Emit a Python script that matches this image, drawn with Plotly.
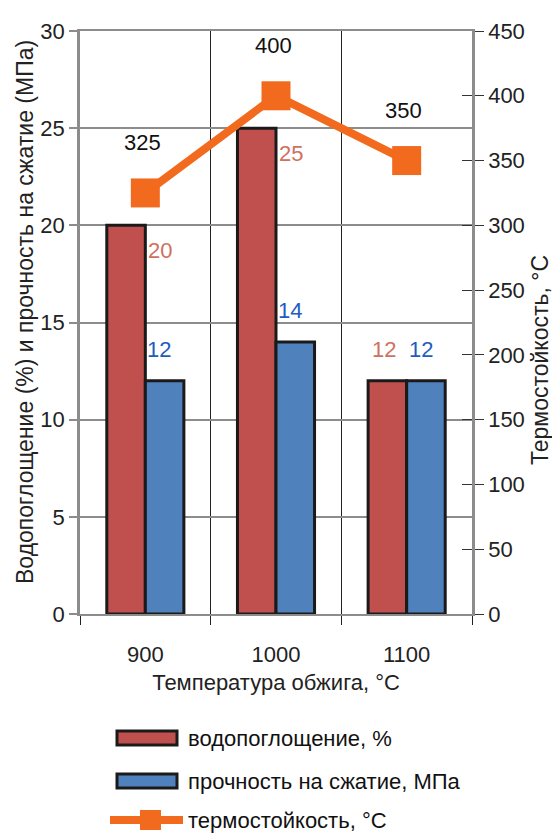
import plotly.graph_objects as go

# Firing temperature categories and measured properties
temperatures = ["900", "1000", "1100"]
water_absorption = [20, 25, 12]          # %
compressive_strength = [12, 14, 12]      # MPa
heat_resistance = [325, 400, 350]        # °C

y_left_ticks = [0, 5, 10, 15, 20, 25, 30]
y_right_ticks = [0, 50, 100, 150, 200, 250, 300, 350, 400, 450]

FONT = "Liberation Sans, Arial, sans-serif"
RED = "#C0504D"
BLUE = "#4F81BD"
ORANGE = "#F26A1E"
RED_TXT = "#D0705E"
BLUE_TXT = "#1D5DC0"
AXIS_GRAY = "#8C8C8C"

W, H = 552, 836
ML, MR, MT, MB = 80, 80, 31, 222
PW, PH = W - ML - MR, H - MT - MB


def px_x(v):
    """pixel column -> paper x (plot-area relative)"""
    return (v - ML) / PW


def px_y(v):
    """pixel row -> paper y (plot-area relative)"""
    return (H - MB - v) / PH


fig = go.Figure()

fig.add_trace(go.Bar(
    x=temperatures, y=water_absorption, name="водопоглощение, %",
    marker=dict(color=RED, line=dict(color="#1a1a1a", width=3)),
    yaxis="y",
))
fig.add_trace(go.Bar(
    x=temperatures, y=compressive_strength, name="прочность на сжатие, МПа",
    marker=dict(color=BLUE, line=dict(color="#1a1a1a", width=3)),
    yaxis="y",
))
fig.add_trace(go.Scatter(
    x=temperatures, y=heat_resistance, name="термостойкость, °С",
    mode="lines+markers",
    line=dict(color=ORANGE, width=8),
    marker=dict(symbol="square", size=29, color=ORANGE),
    yaxis="y2",
))
# an empty trace so the inside-tick overlay axis is drawn
fig.add_trace(go.Scatter(x=[temperatures[0]], y=[None], yaxis="y3", showlegend=False,
                         hoverinfo="skip"))

annotations = []
# value labels for the bars (x given as category index)
for i, (wa, cs) in enumerate(zip(water_absorption, compressive_strength)):
    if wa > cs:
        # label sits to the right of the taller bar, just below its top
        annotations.append(dict(x=i, y=wa, xref="x", yref="y", text=str(wa),
                                showarrow=False, xshift=15, yshift=-25,
                                font=dict(color=RED_TXT, size=22, family=FONT)))
    else:
        annotations.append(dict(x=i, y=wa, xref="x", yref="y", text=str(wa),
                                showarrow=False, xshift=-23, yshift=31,
                                font=dict(color=RED_TXT, size=22, family=FONT)))
    annotations.append(dict(x=i, y=cs, xref="x", yref="y", text=str(cs),
                            showarrow=False, xshift=14, yshift=31,
                            font=dict(color=BLUE_TXT, size=22, family=FONT)))
# value labels for the heat-resistance line
for i, hr in enumerate(heat_resistance):
    annotations.append(dict(x=i, y=hr, xref="x", yref="y2", text=str(hr),
                            showarrow=False, xshift=-3, yshift=50,
                            font=dict(color="#111111", size=22, family=FONT)))

# axis titles for the two value axes
annotations.append(dict(x=px_x(25), y=px_y(312), xref="paper", yref="paper",
                        xanchor="center", yanchor="middle",
                        text="Водопоглощение (%) и прочность на сжатие (МПа)",
                        textangle=-90, showarrow=False,
                        font=dict(color="#222222", size=23, family=FONT)))
annotations.append(dict(x=px_x(540), y=px_y(360), xref="paper", yref="paper",
                        xanchor="center", yanchor="middle",
                        text="Термостойкость, °С",
                        textangle=-90, showarrow=False,
                        font=dict(color="#222222", size=23, family=FONT)))

# custom legend below the plot
legend_items = [
    ("bar", RED, "водопоглощение, %"),
    ("bar", BLUE, "прочность на сжатие, МПа"),
    ("line", ORANGE, "термостойкость, °С"),
]
legend_rows_px = [738, 781, 820]
shapes = []
for (kind, col, label), yc in zip(legend_items, legend_rows_px):
    if kind == "bar":
        shapes.append(dict(type="rect", xref="paper", yref="paper",
                           x0=px_x(117), x1=px_x(177), y0=px_y(yc + 7), y1=px_y(yc - 7),
                           fillcolor=col, line=dict(color="#1a1a1a", width=3)))
    else:
        shapes.append(dict(type="line", xref="paper", yref="paper",
                           x0=px_x(110), x1=px_x(183), y0=px_y(yc), y1=px_y(yc),
                           line=dict(color=col, width=8)))
        shapes.append(dict(type="rect", xref="paper", yref="paper",
                           x0=px_x(140), x1=px_x(161), y0=px_y(yc + 10), y1=px_y(yc - 10),
                           fillcolor=col, line=dict(width=0)))
    annotations.append(dict(x=px_x(186), y=px_y(yc), xref="paper", yref="paper",
                            text=label, showarrow=False, xanchor="left", yanchor="middle",
                            font=dict(color="#111111", size=22, family=FONT)))

fig.update_layout(
    width=W, height=H,
    margin=dict(l=ML, r=MR, t=MT, b=MB),
    paper_bgcolor="white", plot_bgcolor="white",
    barmode="group", bargap=0.41, bargroupgap=0,
    showlegend=False,
    font=dict(family=FONT, size=22, color="#222222"),
    xaxis=dict(
        type="category", range=[-0.5, 2.5], automargin=False,
        tickson="boundaries", ticks="outside", ticklen=9, tickwidth=1, tickcolor="#222222",
        showgrid=True, gridcolor="#222222", gridwidth=1,
        showline=True, mirror=True, linecolor=AXIS_GRAY, linewidth=2,
        ticklabelstandoff=20,
        title=dict(text="Температура обжига, °С", standoff=8, font=dict(size=22)),
        tickfont=dict(size=22),
    ),
    yaxis=dict(
        range=[0, 30], tickvals=y_left_ticks, automargin=False,
        ticks="outside", ticklen=8, tickcolor=AXIS_GRAY, tickwidth=1.5,
        showgrid=True, gridcolor=AXIS_GRAY, gridwidth=1.5, zeroline=False,
        showline=True, linecolor=AXIS_GRAY, linewidth=2.5,
        tickfont=dict(size=22),
    ),
    yaxis2=dict(
        range=[0, 450], tickvals=y_right_ticks, overlaying="y", side="right",
        automargin=False,
        ticks="outside", ticklen=9, tickcolor="#333333", tickwidth=1,
        showgrid=False, zeroline=False,
        showline=True, linecolor=AXIS_GRAY, linewidth=2.5,
        tickfont=dict(size=22),
    ),
    yaxis3=dict(
        range=[0, 450], tickvals=y_right_ticks, overlaying="y", side="right",
        automargin=False,
        ticks="inside", ticklen=10, tickcolor="#333333", tickwidth=1,
        showticklabels=False, showgrid=False, zeroline=False, showline=False,
    ),
    annotations=annotations,
    shapes=shapes,
)

fig.write_html("out.html")
